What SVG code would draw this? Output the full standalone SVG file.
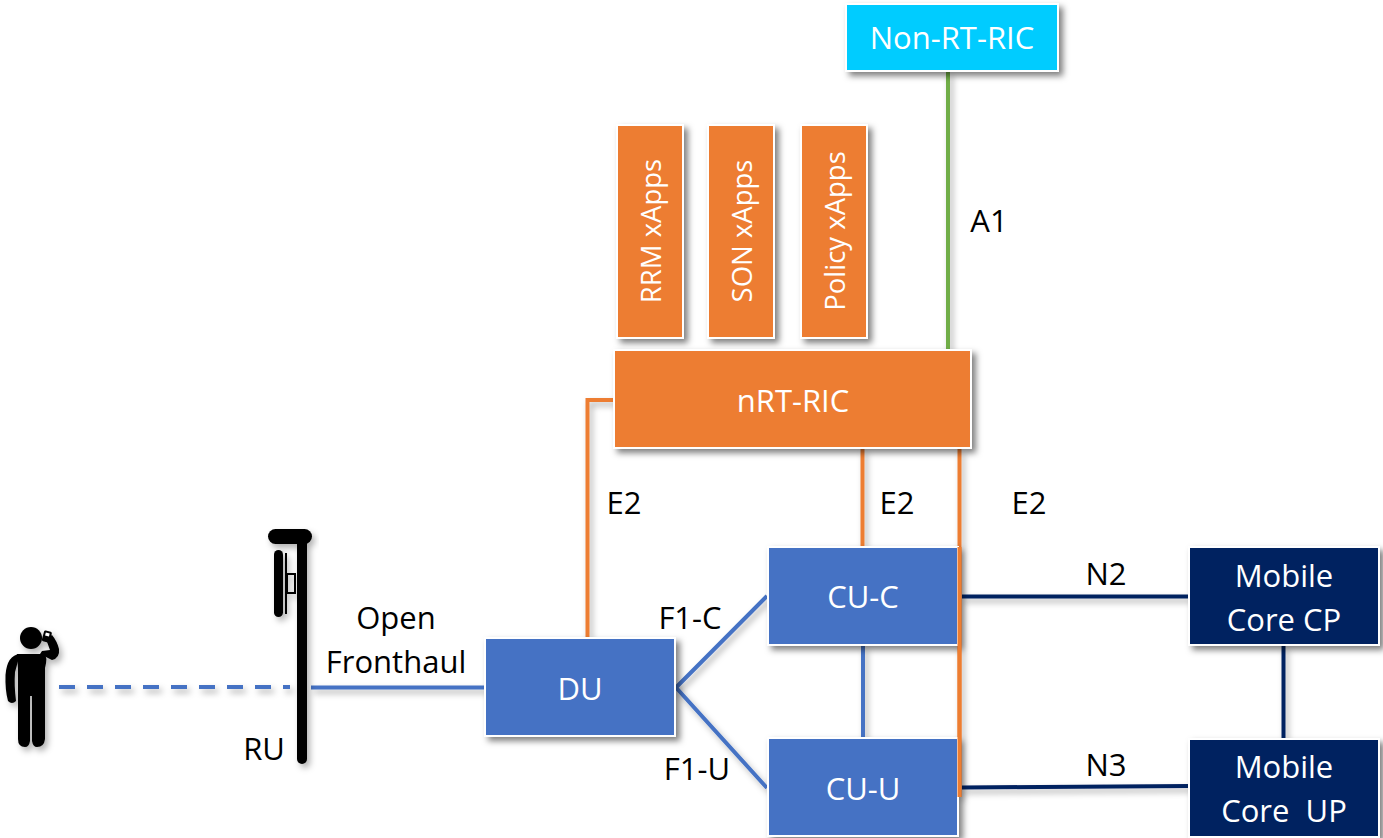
<svg xmlns="http://www.w3.org/2000/svg" width="1383" height="838" viewBox="0 0 1383 838">
<style>
text{font-family:"Open Sans","Noto Sans","Liberation Sans",sans-serif;font-size:31px;text-anchor:middle}
.lbl{fill:#000}
.w{fill:#fff}
.v{font-size:27.500px}
.box{stroke:#fff;stroke-width:2;filter:url(#sh)}
.o{fill:#ed7d31}.b{fill:#4472c4}.n{fill:#002060}
.c{fill:none;stroke-width:4}
.cb{stroke:#4472c4}.co{stroke:#ed7d31}.cn{stroke:#002060}
</style>
<defs>
<filter id="sh" x="-20%" y="-20%" width="150%" height="150%"><feDropShadow dx="4" dy="4" stdDeviation="3" flood-color="#000" flood-opacity="0.5"/></filter>
<filter id="ls" x="-5%" y="-5%" width="120%" height="120%"><feDropShadow dx="3" dy="4" stdDeviation="3" flood-color="#000" flood-opacity="0.3"/></filter>
</defs>

<g id="connectors">
<g filter="url(#ls)">
<path class="c" stroke="#70ad47" d="M948 72V351"/>
<path class="c co" d="M614 400H587.500V637"/>
<path class="c co" d="M862.500 449V547"/>
<path class="c co" d="M959.500 449V797"/>
<path class="c cb" stroke-dasharray="16 12" d="M59 687H290"/>
<path class="c cb" d="M311 687.500H486"/>
<path class="c cb" d="M676 687.500L767 596M676 687.500L767 788"/>
<path class="c cb" d="M863 646V738"/>
<path class="c cn" d="M962 596.500H1190"/>
<path class="c cn" d="M962 787.500L1190 786"/>
<path class="c cn" d="M1283.500 646V738"/>
</g>
</g>

<g id="non-rt-ric"><rect class="box" x="846" y="4" width="212" height="67" fill="#00ccff"/><text class="w" x="952" y="49">Non-RT-RIC</text></g>
<g id="rrm-xapps"><rect class="box o" x="617" y="125" width="66" height="213"/><text class="w v" transform="translate(661 231) rotate(-90)">RRM xApps</text></g>
<g id="son-xapps"><rect class="box o" x="708" y="125" width="66" height="213"/><text class="w v" transform="translate(752 231) rotate(-90)">SON xApps</text></g>
<g id="policy-xapps"><rect class="box o" x="801" y="125" width="66" height="213"/><text class="w v" transform="translate(845 231) rotate(-90)">Policy xApps</text></g>
<g id="nrt-ric"><rect class="box o" x="614" y="350" width="357" height="98"/><text class="w" x="793" y="412">nRT-RIC</text></g>
<g id="du"><rect class="box b" x="485" y="638" width="190" height="98"/><text class="w" x="580" y="700">DU</text></g>
<g id="cu-c"><rect class="box b" x="768" y="547" width="190" height="98"/><text class="w" x="863" y="608">CU-C</text></g>
<g id="cu-u"><rect class="box b" x="768" y="738" width="190" height="98"/><text class="w" x="863" y="800">CU-U</text></g>
<g id="core-cp"><rect class="box n" x="1189" y="547" width="190" height="98"/><text class="w" x="1284" y="587">Mobile</text><text class="w" x="1284" y="631">Core CP</text></g>
<g id="core-up"><rect class="box n" x="1189" y="739" width="190" height="98"/><text class="w" x="1284" y="778">Mobile</text><text class="w" x="1284" y="822" xml:space="preserve">Core  UP</text></g>

<path class="c co" d="M959.500 547V797"/>

<g id="ru" filter="url(#ls)">
<rect x="297" y="535" width="10" height="229" rx="5"/>
<rect x="268" y="529" width="44" height="15" rx="7.500"/>
<rect x="274" y="550" width="9" height="67" rx="4.500"/>
<path d="M286 553V614" stroke="#000" stroke-width="2"/>
<rect x="287" y="574" width="8" height="19" fill="none" stroke="#000" stroke-width="2"/>
</g>

<g id="user" filter="url(#ls)">
<circle cx="31" cy="638" r="11"/>
<path d="M17 654H44Q48 656 45 668V739Q44 747 37 747Q33 747 32 741V696H30V741Q29 747 25 747Q18 747 18 739V668Z"/>
<path d="M20 654Q7 655 5.500 675Q5 690 8 701Q12 705 16 701Q14 685 15 672Z"/>
<path d="M40 654L52 660Q60 658 59 649Q57 641 52 635L46 639L50 650L42 651Z"/>
<rect x="43" y="631" width="8" height="11" rx="1.500" transform="rotate(15 47 636)"/>
<rect x="45" y="633" width="4" height="3" fill="#fff" transform="rotate(15 47 636)"/>
</g>

<g id="labels">
<text class="lbl" x="989" y="232">A1</text>
<text class="lbl" x="624" y="514">E2</text>
<text class="lbl" x="897" y="514">E2</text>
<text class="lbl" x="1029" y="514">E2</text>
<text class="lbl" x="1106" y="585">N2</text>
<text class="lbl" x="1106" y="776">N3</text>
<text class="lbl" x="690" y="629">F1-C</text>
<text class="lbl" x="697" y="780">F1-U</text>
<text class="lbl" x="396" y="629">Open</text>
<text class="lbl" x="396" y="673">Fronthaul</text>
<text class="lbl" x="264" y="760">RU</text>
</g>
</svg>
